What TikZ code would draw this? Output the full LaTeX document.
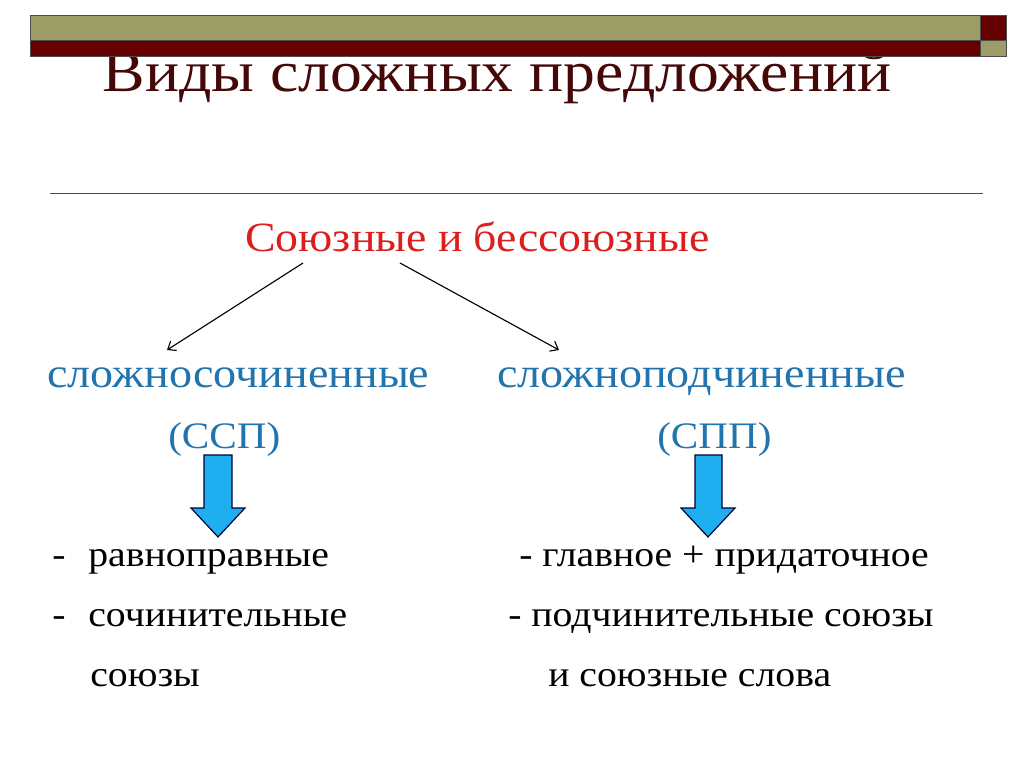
\documentclass[tikz,border=0pt]{standalone}
\usepackage{fontspec}
\setmainfont[FakeStretch=1.1]{Liberation Serif}
\usepackage{tikz}
\usetikzlibrary{arrows.meta}

\definecolor{barolive}{HTML}{9C9C66}
\definecolor{barred}{HTML}{660000}
\definecolor{titlered}{HTML}{440808}
\definecolor{typered}{HTML}{DC1E1E}
\definecolor{typeblue}{HTML}{2174AE}
\definecolor{arrowblue}{HTML}{1FAEEF}

\begin{document}
\begin{tikzpicture}[
		x=0.025cm, y=-0.025cm,
		every node/.style={inner sep=0pt, anchor=base west},
		titletext/.style={text=titlered, font=\fontsize{41.2}{43}\selectfont},
		redtext/.style={text=typered, font=\fontsize{29.6}{31}\selectfont},
		bluetext/.style={text=typeblue, font=\fontsize{29.8}{31}\selectfont},
		abbrtext/.style={text=typeblue, font=\fontsize{26.6}{28}\selectfont},
		listtext/.style={text=black, font=\fontsize{25.7}{27}\selectfont},
		thinarrow/.style={-{Straight Barb[length=5pt, width=8pt]}, line width=0.8pt},
		bluearrow/.style={draw=black!80!blue, fill=arrowblue, line width=0.8pt, line join=miter}
	]
  \useasboundingbox [fill=white] (0,0) rectangle (1024,767);
  \node (title) [titletext, anchor=base] at (497,92) {Виды сложных предложений};
  % top bar
  \draw [fill=barolive, draw=black!70] (30,15) rectangle (980,40);
  \draw [fill=barred, draw=black!70] (30,40) rectangle (980,56);
  \draw [fill=barred, draw=black!70] (980,15) rectangle (1006,40);
  \draw [fill=barolive, draw=black!70] (980,40) rectangle (1006,56);

  \draw [black!70, line width=0.6pt] (50,193) -- (983,193);

  \node (union) [redtext] at (245,252) {Союзные и бессоюзные};

  \node (compound) [bluetext] at (47,387) {сложносочиненные};
  \node (complex) [bluetext] at (497,387) {сложноподчиненные};
  \node (ssp) [abbrtext] at (168,448) {(ССП)};
  \node (spp) [abbrtext] at (657,448) {(СПП)};

  \coordinate (u_l) at (303,263);
  \coordinate (u_r) at (400,263);
  \coordinate (c_l) at (167,350);
  \coordinate (c_r) at (559,350);
  \draw [thinarrow] (u_l) -- (c_l);
  \draw [thinarrow] (u_r) -- (c_r);

  \draw [bluearrow] (204,455) -- (232,455) -- (232,508) -- (245,508) -- (218,537) -- (191,508) -- (204,508) -- cycle;
  \draw [bluearrow] (695,455) -- (722,455) -- (722,508) -- (735,508) -- (708,537) -- (681,508) -- (695,508) -- cycle;

  \node (dash_a) [listtext] at (52,566) {-};
  \node (equal) [listtext] at (88,566) {равноправные};
  \node (dash_b) [listtext] at (52,626) {-};
  \node (coord) [listtext] at (88,626) {сочинительные};
  \node (conj) [listtext] at (90,686) {союзы};

  \node (main_sub) [listtext] at (519,566) {- главное + придаточное};
  \node (sub_conj) [listtext] at (508,626) {- подчинительные союзы};
  \node (conj_words) [listtext] at (548,686) {и союзные слова};
\end{tikzpicture}
\end{document}
